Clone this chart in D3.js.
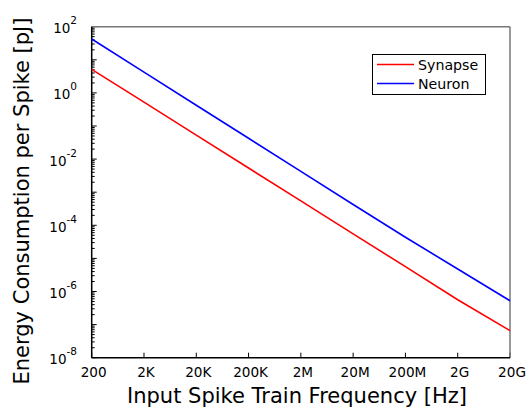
<!DOCTYPE html>
<html><head><meta charset="utf-8">
<script src="https://cdn.jsdelivr.net/npm/d3@7"></script>
<style>body{margin:0;background:#fff}svg{display:block}text{font-family:"DejaVu Sans",sans-serif;fill:#000}</style>
</head><body><svg id="c" width="532" height="411"></svg>
<script>
const freqs = [2e2, 2e3, 2e4, 2e5, 2e6, 2e7, 2e8, 2e9, 2e10];
const freqLabels = ["200","2K","20K","200K","2M","20M","200M","2G","20G"];
const synapse = [5.16, 0.524, 0.0531, 0.00538, 5.46e-4, 5.53e-5, 5.62e-6, 5.62e-7, 6.55e-8];
const neuron  = [42.5, 4.25, 0.425, 0.0425, 0.00425, 4.25e-4, 4.35e-5, 4.79e-6, 5.27e-7];
const yExps = [2, 0, -2, -4, -6, -8];

const svg = d3.select("#c");
const L = 91.7, R = 510, T = 26.7, B = 357.7;
const x = d3.scaleLog().domain([2e2, 2e10]).range([L, R]);
const y = d3.scaleLog().domain([1e-8, 1e2]).range([B, T]);

// minor y ticks
const minor = [];
for (let e = -8; e < 2; e++) for (let m = 2; m <= 9; m++) minor.push(m * Math.pow(10, e));
svg.append("g").selectAll("line").data(minor).join("line")
  .attr("x1", L).attr("x2", L + 3).attr("y1", d => y(d)).attr("y2", d => y(d))
  .attr("stroke", "#000").attr("stroke-width", 1);
const majorY = d3.range(-8, 3).map(e => Math.pow(10, e));
svg.append("g").selectAll("line").data(majorY).join("line")
  .attr("x1", L).attr("x2", L + 5).attr("y1", d => y(d)).attr("y2", d => y(d))
  .attr("stroke", "#000").attr("stroke-width", 1);
// x ticks
svg.append("g").selectAll("line").data(freqs).join("line")
  .attr("x1", d => x(d)).attr("x2", d => x(d)).attr("y1", B).attr("y2", B - 5)
  .attr("stroke", "#000").attr("stroke-width", 1);

// frame
svg.append("line").attr("x1", L).attr("x2", R).attr("y1", T).attr("y2", T).attr("stroke", "#777").attr("stroke-width", 1.5);
svg.append("line").attr("x1", R).attr("x2", R).attr("y1", T).attr("y2", B).attr("stroke", "#777").attr("stroke-width", 1.5);
svg.append("line").attr("x1", L).attr("x2", L).attr("y1", T).attr("y2", B).attr("stroke", "#000").attr("stroke-width", 1.5);
svg.append("line").attr("x1", L).attr("x2", R).attr("y1", B).attr("y2", B).attr("stroke", "#000").attr("stroke-width", 1.5);

// lines
const line = d3.line().x((d, i) => x(freqs[i])).y(d => y(d));
svg.append("path").attr("d", line(synapse)).attr("fill", "none").attr("stroke", "#ff0000").attr("stroke-width", 1.6);
svg.append("path").attr("d", line(neuron)).attr("fill", "none").attr("stroke", "#0000ff").attr("stroke-width", 1.6);

// y tick labels
const yl = svg.append("g").selectAll("text").data(yExps).join("text")
  .attr("x", 77).attr("y", d => y(Math.pow(10, d)) + 6.5).attr("text-anchor", "end")
  .attr("font-size", 13.5);
yl.append("tspan").text("10");
yl.append("tspan").attr("dy", -9).attr("font-size", 10.5).text(d => d);

// x tick labels
svg.append("g").selectAll("text").data(freqs).join("text")
  .attr("x", (d) => x(d) + 2).attr("y", 377).attr("text-anchor", "middle").attr("font-size", 13.6)
  .text((d, i) => freqLabels[i]);

// axis titles
svg.append("text").attr("x", 297).attr("y", 403).attr("text-anchor", "middle").attr("font-size", 21)
  .text("Input Spike Train Frequency [Hz]");
svg.append("text").attr("transform", "translate(29,201) rotate(-90)").attr("text-anchor", "middle").attr("font-size", 21)
  .text("Energy Consumption per Spike [pJ]");

// legend
const lg = svg.append("g");
lg.append("rect").attr("x", 372.5).attr("y", 54.5).attr("width", 113).attr("height", 40)
  .attr("fill", "#fff").attr("stroke", "#000").attr("stroke-width", 1);
const items = [{n: "Synapse", c: "#ff0000"}, {n: "Neuron", c: "#0000ff"}];
items.forEach((it, i) => {
  const yy = 64.5 + i * 19;
  lg.append("line").attr("x1", 377).attr("x2", 414).attr("y1", yy).attr("y2", yy).attr("stroke", it.c).attr("stroke-width", 1.5);
  lg.append("text").attr("x", 418).attr("y", yy + 5).attr("font-size", 14.2).text(it.n);
});
</script></body></html>
